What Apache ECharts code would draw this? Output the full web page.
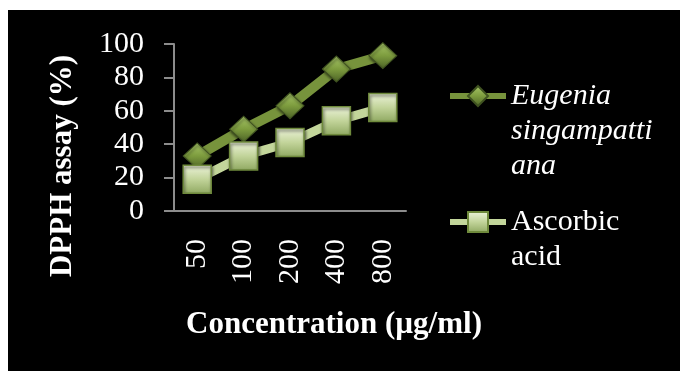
<!DOCTYPE html>
<html>
<head>
<meta charset="utf-8">
<script src="https://cdn.jsdelivr.net/npm/echarts@6/dist/echarts.min.js"></script>
<style>
  html, body { margin: 0; padding: 0; background: #ffffff; }
  #chart { position: absolute; left: 8px; top: 10px; width: 672px; height: 361px; background: #000000; }
</style>
</head>
<body>
<div id="chart"></div>
<script>
// DPPH radical scavenging by concentration
const categories = ['50', '100', '200', '400', '800'];
const eugeniaValues = [33, 49, 63, 85, 93];
const ascorbicValues = [19, 33, 41, 54, 62];
const seriesNames = ['Eugenia singampattiana', 'Ascorbic acid'];
const legendLines = [['Eugenia', 'singampatti', 'ana'], ['Ascorbic', 'acid']];
const yTicks = { min: 0, max: 100, interval: 20 };

const serif = "'Liberation Serif', 'Times New Roman', serif";
const LEGEND_LINE = 35;

const diamondFill = new echarts.graphic.LinearGradient(0, 0, 0, 1, [
  { offset: 0, color: '#a9c86a' },
  { offset: 0.5, color: '#7d9c3e' },
  { offset: 1, color: '#4b6126' }
]);
const squareFill = new echarts.graphic.LinearGradient(0, 0, 0, 1, [
  { offset: 0, color: '#eef4dc' },
  { offset: 0.5, color: '#c2d49a' },
  { offset: 1, color: '#8fa861' }
]);

const chart = echarts.init(document.getElementById('chart'), null, { renderer: 'canvas' });

// The legend label is centred on its icon; leading empty lines keep the
// first line of a wrapped name level with the icon.
function legendFor(idx, iconCenter, italic) {
  const lines = legendLines[idx];
  const pad = new Array(lines.length - 1).fill('');
  const total = pad.length + lines.length;
  return {
    orient: 'vertical',
    left: 439,
    top: iconCenter - total * LEGEND_LINE / 2,
    padding: 0,
    itemWidth: 56,
    itemHeight: 25,
    data: [{ name: seriesNames[idx] }],
    formatter: () => pad.concat(lines).join('\n'),
    lineStyle: { width: 6 },
    textStyle: {
      color: '#ffffff',
      fontFamily: serif,
      fontSize: 30,
      fontStyle: italic ? 'italic' : 'normal',
      lineHeight: LEGEND_LINE
    }
  };
}

chart.setOption({
  backgroundColor: '#000000',
  animation: false,
  grid: { left: 166, right: 274, top: 34, bottom: 160, containLabel: false },
  legend: [legendFor(0, 86, true), legendFor(1, 212, false)],
  xAxis: {
    type: 'category',
    data: categories,
    boundaryGap: true,
    name: 'Concentration (µg/ml)',
    nameLocation: 'middle',
    nameGap: 98,
    nameTextStyle: {
      color: '#ffffff', fontFamily: serif, fontSize: 31, fontWeight: 'bold',
      padding: [0, 0, 0, 88]
    },
    axisLine: { lineStyle: { color: '#8c8c8c', width: 2 } },
    axisTick: { show: false },
    axisLabel: {
      rotate: 90, margin: 28, color: '#ffffff', fontFamily: serif, fontSize: 30
    },
    splitLine: { show: false }
  },
  yAxis: {
    type: 'value',
    min: yTicks.min,
    max: yTicks.max,
    interval: yTicks.interval,
    name: 'DPPH assay (%)',
    nameLocation: 'middle',
    nameGap: 96,
    nameTextStyle: {
      color: '#ffffff', fontFamily: serif, fontSize: 31, fontWeight: 'bold',
      padding: [0, 77, 0, 0]
    },
    axisLine: { show: true, lineStyle: { color: '#8c8c8c', width: 2 } },
    axisTick: { show: true, inside: false, length: 10, lineStyle: { color: '#8c8c8c', width: 2 } },
    axisLabel: { margin: 30, color: '#ffffff', fontFamily: serif, fontSize: 30 },
    splitLine: { show: false }
  },
  series: [
    {
      name: seriesNames[0],
      type: 'line',
      data: eugeniaValues,
      symbol: 'diamond',
      symbolSize: [28, 26],
      lineStyle: { color: '#77933c', width: 10 },
      itemStyle: {
        color: diamondFill, borderColor: '#3f5220', borderWidth: 1,
        shadowColor: 'rgba(0,0,0,0.6)', shadowBlur: 3, shadowOffsetX: 1, shadowOffsetY: 2
      },
      z: 2
    },
    {
      name: seriesNames[1],
      type: 'line',
      data: ascorbicValues,
      symbol: 'rect',
      symbolSize: [28, 28],
      lineStyle: { color: '#c3d69b', width: 9 },
      itemStyle: {
        color: squareFill, borderColor: '#6f8a3c', borderWidth: 1.5,
        shadowColor: 'rgba(0,0,0,0.6)', shadowBlur: 3, shadowOffsetX: 1, shadowOffsetY: 2
      },
      z: 3
    }
  ]
});
</script>
</body>
</html>
